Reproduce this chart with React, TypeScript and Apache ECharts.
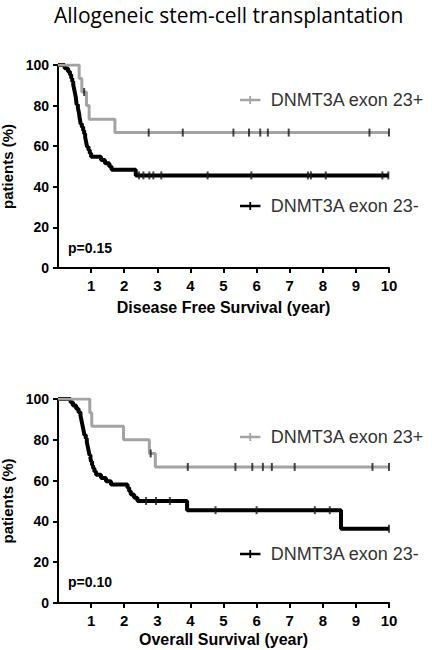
import React, { useEffect, useRef } from "react";
import * as echarts from "echarts";

const titleText = "Allogeneic stem-cell transplantation";
const posName = "DNMT3A exon 23+";
const negName = "DNMT3A exon 23-";
const xTickValues = [0, 1, 2, 3, 4, 5, 6, 7, 8, 9, 10];
const yTickValues = [0, 20, 40, 60, 80, 100];
const dfsTitle = "Disease Free Survival (year)";
const osTitle = "Overall Survival (year)";
const yTitle = "patients (%)";
const dfsP = "p=0.15";
const osP = "p=0.10";

// Disease free survival, exon 23+
const dfsPosTimes = [0, 0.64, 0.72, 0.86, 0.94, 1.72, 10];
const dfsPosSurv = [100, 93.3, 86.7, 80, 73.3, 66.7, 66.7];
const dfsPosCensor = [0.79, 2.74, 3.77, 5.3, 5.77, 6.11, 6.34, 6.97, 9.41, 10.0];

// Disease free survival, exon 23-
const dfsNegTimes = [0, 0.2, 0.3, 0.36, 0.4, 0.43, 0.46, 0.48, 0.5, 0.52, 0.54, 0.55, 0.56, 0.6, 0.62, 0.64, 0.65, 0.67, 0.68, 0.72, 0.76, 0.79, 0.82, 0.84, 0.86, 0.88, 0.92, 0.96, 1.0, 1.3, 1.42, 1.55, 1.62, 2.35, 10];
const dfsNegSurv = [100, 98.4, 96.8, 95.2, 93.5, 91.9, 90.3, 88.7, 87.1, 85.5, 83.9, 82.3, 80.6, 79, 77.4, 75.8, 74.2, 72.6, 71, 69.4, 67.7, 66.1, 64.5, 62.9, 61.3, 59.7, 58.1, 56.5, 54.8, 53.2, 51.6, 50, 48.4, 45.6, 45.6];
const dfsNegCensor = [2.45, 2.58, 2.76, 2.88, 3.12, 4.52, 5.84, 7.55, 7.64, 8.09, 9.8, 9.98];

// Overall survival, exon 23+
const osPosTimes = [0, 0.96, 1.02, 1.98, 2.76, 2.94, 10];
const osPosSurv = [100, 93.3, 86.7, 80, 73.3, 66.7, 66.7];
const osPosCensor = [2.8, 3.92, 5.36, 5.87, 6.19, 6.46, 7.15, 9.5, 10.0];

// Overall survival, exon 23-
const osNegTimes = [0, 0.38, 0.45, 0.55, 0.62, 0.68, 0.7, 0.72, 0.74, 0.76, 0.78, 0.8, 0.84, 0.87, 0.89, 0.91, 0.93, 0.95, 0.98, 1.0, 1.03, 1.06, 1.1, 1.15, 1.3, 1.45, 1.6, 2.1, 2.15, 2.2, 2.3, 2.4, 3.9, 8.55, 10];
const osNegSurv = [100, 98.4, 96.8, 95.2, 93.5, 91.9, 90.3, 88.7, 87.1, 85.5, 83.9, 82.3, 80.6, 79, 77.4, 75.8, 74.2, 72.6, 71, 69.4, 67.7, 66.1, 64.5, 62.9, 61.3, 59.7, 58.1, 56.5, 54.8, 53.2, 51.6, 50, 45.5, 36.4, 36.4];
const osNegCensor = [2.66, 2.96, 3.38, 4.76, 6.0, 7.76, 8.21, 10.0];

const GRAY = "#a3a3a3";
const BLACK = "#000000";
const AX = "Liberation Sans, Arial, sans-serif";

function survAt(times: number[], surv: number[], t: number) {
  let s = surv[0];
  for (let i = 0; i < times.length; i++) if (times[i] <= t) s = surv[i];
  return s;
}
const pairs = (times: number[], surv: number[]) => times.map((t, i) => [t, surv[i]]);
const censorPts = (c: number[], times: number[], surv: number[]) => c.map((t) => [t, survAt(times, surv, t)]);

const legendIcon = "path://M0,3H23V6H0Z M10.5,0H12.5V9H10.5Z";

function makeAxes(gi: number, xName: string, xNameGap: number) {
  const x = {
    type: "value",
    gridIndex: gi,
    min: 0,
    max: 10,
    interval: 1,
    axisLine: { show: true, lineStyle: { color: "#000", width: 2 } },
    axisTick: { show: true, length: 5, lineStyle: { color: "#000", width: 2 }, customValues: xTickValues.filter((v) => v > 0) },
    axisLabel: {
      color: "#000", fontWeight: "bold", fontSize: 15, fontFamily: AX, margin: 10,
      customValues: xTickValues.filter((v) => v > 0),
      formatter: (v: number) => (v === 0 ? "" : String(v)),
    },
    splitLine: { show: false },
    name: xName,
    nameLocation: "middle",
    nameGap: xNameGap,
    nameTextStyle: { color: "#000", fontWeight: "bold", fontSize: 16, fontFamily: AX },
  };
  const y = {
    type: "value",
    gridIndex: gi,
    min: 0,
    max: 100,
    interval: 20,
    axisLine: { show: true, lineStyle: { color: "#000", width: 2 } },
    axisTick: { show: true, length: 5, lineStyle: { color: "#000", width: 2 }, customValues: yTickValues },
    axisLabel: { color: "#000", fontWeight: "bold", fontSize: 14, fontFamily: AX, margin: 9, customValues: yTickValues },
    splitLine: { show: false },
    name: yTitle,
    nameLocation: "middle",
    nameGap: 38,
    nameTextStyle: { color: "#000", fontWeight: "bold", fontSize: 15, fontFamily: AX },
  };
  return { x, y };
}

function curve(name: string, gi: number, data: number[][], color: string, width: number, z: number) {
  return {
    type: "line",
    name,
    xAxisIndex: gi,
    yAxisIndex: gi,
    step: "end",
    data,
    symbol: "none",
    lineStyle: { color, width, cap: "butt" },
    itemStyle: { color },
    z,
  };
}

function ticks(name: string, gi: number, data: number[][], z: number) {
  return {
    type: "scatter",
    name,
    xAxisIndex: gi,
    yAxisIndex: gi,
    data,
    symbol: "rect",
    symbolSize: [2, 8],
    itemStyle: { color: "#1a1a1a" },
    z,
  };
}

function legendAt(name: string, top: number, color: string) {
  return {
    data: [{ name, icon: legendIcon, itemStyle: { color } }],
    left: 235,
    top,
    itemWidth: 23,
    itemHeight: 8,
    selectedMode: false,
    textStyle: { color: "#333", fontSize: 18, fontFamily: AX, padding: [0, 0, 0, 4] },
  };
}

export default function App() {
  const ref = useRef<HTMLDivElement>(null);
  useEffect(() => {
    if (!ref.current) return;
    const chart = echarts.init(ref.current, null, { renderer: "svg" });
    const a0 = makeAxes(0, dfsTitle, 31);
    const a1 = makeAxes(1, osTitle, 28);
    chart.setOption({
      animation: false,
      backgroundColor: "#fff",
      title: {
        text: titleText,
        left: 54,
        top: 3,
        padding: 0,
        textStyle: { color: "#000", fontWeight: "normal", fontSize: 21, lineHeight: 24, fontFamily: "Open Sans, Noto Sans, sans-serif" },
      },
      grid: [
        { left: 58, top: 65, width: 331, height: 203, outerBoundsMode: "none", containLabel: false },
        { left: 58, top: 399, width: 331, height: 204, outerBoundsMode: "none", containLabel: false },
      ],
      xAxis: [a0.x, a1.x],
      yAxis: [a0.y, a1.y],
      legend: [
        legendAt(posName, 86, GRAY),
        legendAt(negName, 192, BLACK),
        legendAt(posName, 423, GRAY),
        legendAt(negName, 540, BLACK),
      ],
      graphic: [
        { type: "text", left: 68, top: 241, style: { text: dfsP, fontSize: 14, fontWeight: "bold", fontFamily: AX, fill: "#000" } },
        { type: "text", left: 68, top: 575, style: { text: osP, fontSize: 14, fontWeight: "bold", fontFamily: AX, fill: "#000" } },
      ],
      series: [
        curve(negName, 0, pairs(dfsNegTimes, dfsNegSurv), BLACK, 4, 3),
        curve(posName, 0, pairs(dfsPosTimes, dfsPosSurv), GRAY, 3, 4),
        ticks("dfsNegCensor", 0, censorPts(dfsNegCensor, dfsNegTimes, dfsNegSurv), 5),
        ticks("dfsPosCensor", 0, censorPts(dfsPosCensor, dfsPosTimes, dfsPosSurv), 5),
        curve(negName, 1, pairs(osNegTimes, osNegSurv), BLACK, 4, 3),
        curve(posName, 1, pairs(osPosTimes, osPosSurv), GRAY, 3, 4),
        ticks("osNegCensor", 1, censorPts(osNegCensor, osNegTimes, osNegSurv), 5),
        ticks("osPosCensor", 1, censorPts(osPosCensor, osPosTimes, osPosSurv), 5),
      ],
    });
    return () => chart.dispose();
  }, []);
  return <div ref={ref} style={{ position: "fixed", left: 0, top: 0, width: 432, height: 650 }} />;
}
